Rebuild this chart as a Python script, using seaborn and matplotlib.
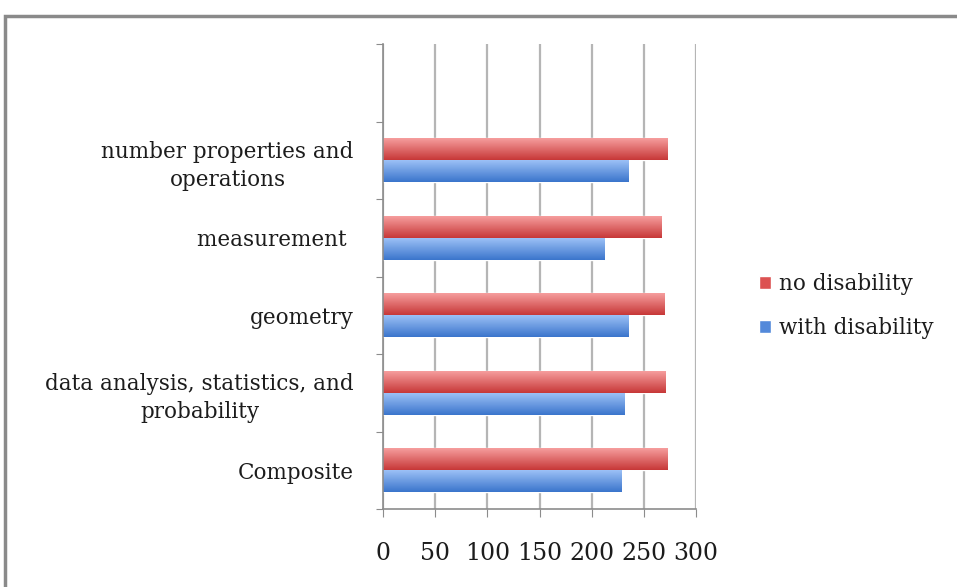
import numpy as np
import pandas as pd
import matplotlib
matplotlib.use("Agg")
import matplotlib.pyplot as plt
import matplotlib.colors as mcolors
from matplotlib.patches import Rectangle
import seaborn as sns

# values (top to bottom)
categories = [
    "number properties and\noperations",
    "measurement ",
    "geometry",
    "data analysis, statistics, and\nprobability",
    "Composite",
]
no_disability = [273, 267, 270, 271, 273]
with_disability = [235, 212, 235, 231, 229]
groups = ["no disability", "with disability"]
x_ticks = [0, 50, 100, 150, 200, 250, 300]

df = pd.DataFrame({
    "category": categories * 2,
    "score": no_disability + with_disability,
    "group": [groups[0]] * len(categories) + [groups[1]] * len(categories),
})

sns.set_style("white")
plt.rcParams["font.family"] = ["DejaVu Serif"]

fig = plt.figure(figsize=(9.57, 5.87), dpi=100)
ax = fig.add_axes([383 / 957, 1 - 509 / 587, (696 - 383) / 957, (509 - 44) / 587])

palette = {"no disability": "#DC5252", "with disability": "#5389DA"}
sns.barplot(data=df, x="score", y="category", hue="group", order=categories,
            hue_order=groups, palette=palette, width=0.57, orient="h",
            saturation=1, legend=False, ax=ax)

# soft vertical gradient on each bar, like the office-style bars
shades = {
    0: ("#F8A2A2", "#C73838"),
    1: ("#A0C4F8", "#3B75CC"),
}
for i, cont in enumerate(ax.containers):
    top, bot = shades[i]
    c0 = np.array(mcolors.to_rgb(top))
    c1 = np.array(mcolors.to_rgb(bot))
    t = np.linspace(0, 1, 64)[:, None]
    grad = (c0 * (1 - t) + c1 * t)[:, None, :]
    for bar in cont:
        x0, y0 = bar.get_x(), bar.get_y()
        w, h = bar.get_width(), bar.get_height()
        im = ax.imshow(grad, extent=(x0, x0 + w, y0 + h, y0), origin="upper",
                       aspect="auto", zorder=bar.get_zorder() + 0.1,
                       interpolation="bilinear")
        im.set_clip_path(bar)

ax.set_xlim(0, 300)
ax.set_ylim(len(categories) - 0.5, -1.5)

# gridlines and axes styling
ax.set_xticks(x_ticks)
ax.xaxis.grid(True, color="#B5B5B5", linewidth=1.6)
ax.set_axisbelow(True)
for side in ["top", "right"]:
    ax.spines[side].set_visible(False)
for side in ["left", "bottom"]:
    ax.spines[side].set_color("#8C8C8C")
    ax.spines[side].set_linewidth(1.2)

txt = "#1C1C1C"
ax.set_yticks(np.arange(-1.5, len(categories), 1.0))
ax.set_yticklabels([])
ax.set_yticks(np.arange(len(categories)), minor=True)
ax.set_yticklabels(categories, minor=True, fontsize=15.5, color=txt,
                   multialignment="center", linespacing=1.35)
ax.tick_params(axis="y", which="major", length=5, color="#8C8C8C", left=True)
ax.tick_params(axis="y", which="minor", length=0, pad=21)
ax.tick_params(axis="x", length=6, color="#8C8C8C", bottom=True, pad=18,
               labelsize=17, labelcolor=txt)
ax.set_xlabel("")
ax.set_ylabel("")

# legend with small square markers
handles = [Rectangle((0, 0), 1, 1, facecolor=palette[g]) for g in groups]
fig.legend(handles, groups, loc="center left", bbox_to_anchor=(740 / 957, 1 - 306 / 587),
           frameon=False, fontsize=15.5, handlelength=0.55, handleheight=0.55,
           handletextpad=0.35, labelspacing=1.05, labelcolor=txt)

# outer frame of the original picture
fig.patches.append(Rectangle((5 / 957, -0.2), 1.5, 1 - 16 / 587 + 0.2,
                             transform=fig.transFigure, fill=False,
                             edgecolor="#8A8A8A", linewidth=2.5))

fig.savefig("out.png", dpi=100)
